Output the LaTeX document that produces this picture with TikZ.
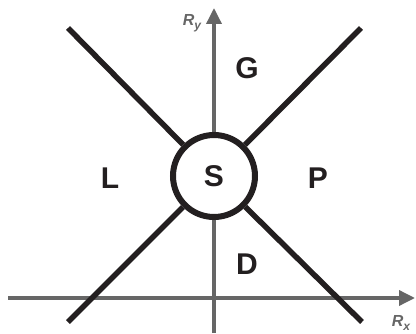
\documentclass[tikz,border=0pt]{standalone}
\usepackage{fontspec}
\setmainfont{Liberation Sans}
\usetikzlibrary{arrows.meta}
\definecolor{ink}{HTML}{231F20}
\definecolor{axisgray}{HTML}{666666}
\newcommand{\axsub}[1]{\raisebox{-4pt}{\fontsize{12}{12}\selectfont #1}}
\begin{document}
\begin{tikzpicture}[x=1pt,y=1pt,
  big/.style={font=\fontsize{30}{30}\selectfont\bfseries, text=ink, inner sep=0pt},
  axislab/.style={font=\fontsize{16}{16}\selectfont\bfseries\itshape, text=axisgray, inner sep=0pt},
  axisline/.style={draw=axisgray, line width=3.5pt, -{Triangle[length=16pt,width=15pt]}},
  diag/.style={draw=ink, line width=5.5pt},
  hub/.style={circle, draw=ink, line width=6pt, minimum size=82pt, inner sep=0pt, fill=white}]
\useasboundingbox (0,0) rectangle (416,333);
% axes
\coordinate (vb) at (214,0);
\coordinate (vt) at (214,325);
\coordinate (hl) at (8,35);
\coordinate (hr) at (415,35);
\draw[axisline] (vb) -- (vt);
\draw[axisline] (hl) -- (hr);
% hub
\node[hub, big] (S) at (214,157) {S};
% diagonals
\coordinate (tl) at (68,305);
\coordinate (tr) at (361,305);
\coordinate (bl) at (68,11);
\coordinate (br) at (362,11);
\draw[diag] (tl) -- (S);
\draw[diag] (tr) -- (S);
\draw[diag] (bl) -- (S);
\draw[diag] (br) -- (S);
% region labels
\node[big] (G) at (247,265) {G};
\node[big] (L) at (110,155) {L};
\node[big] (P) at (318,155) {P};
\node[big] (D) at (247,69) {D};
% axis labels
\node[axislab] (Ry) at (192,310) {R\axsub{y}};
\node[axislab] (Rx) at (401,10) {R\axsub{x}};
\end{tikzpicture}
\end{document}
